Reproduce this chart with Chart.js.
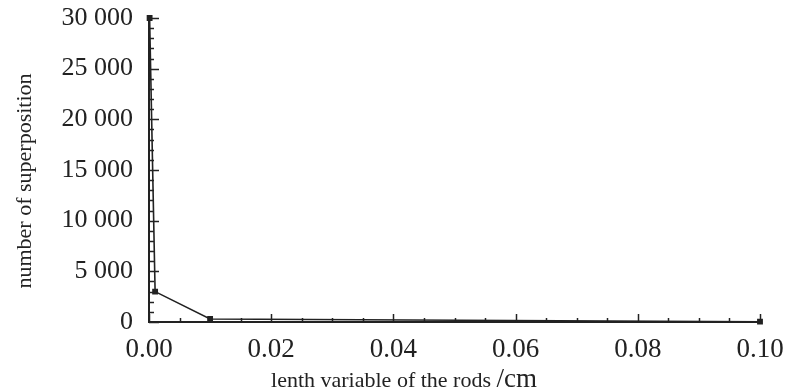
<!DOCTYPE html>
<html>
<head>
<meta charset="utf-8">
<script src="https://cdn.jsdelivr.net/npm/chart.js@4.4.0/dist/chart.umd.min.js"></script>
<style>
html,body{margin:0;padding:0;background:#fff;}
#wrap{width:788px;height:392px;position:relative;}
</style>
</head>
<body>
<div id="wrap"><canvas id="c" width="788" height="392"></canvas></div>
<script>
const lengths = [0.0001, 0.001, 0.01, 0.1];
const superpositions = [30000, 3000, 300, 30];
const xTitle = "lenth variable of the rods";
const xUnit = "cm";
const yTitle = "number of superposition";

const serif = "'Liberation Serif','Times New Roman',serif";
const ink = '#222';

function fmtThousands(v){
  return String(Math.round(v)).replace(/\B(?=(\d{3})+(?!\d))/g, ' ');
}

const inwardTicks = {
  id: 'inwardTicks',
  afterDatasetsDraw(chart){
    const ctx = chart.ctx;
    const xs = chart.scales.x, ys = chart.scales.y;
    const a = chart.chartArea;
    ctx.save();
    ctx.strokeStyle = ink;
    ctx.lineWidth = 1.5;
    for (let v = 0; v <= 30000; v += 1000){
      const py = Math.round(ys.getPixelForValue(v)) + 0.5;
      const len = (v % 5000 === 0) ? 10 : 5;
      ctx.beginPath();
      ctx.moveTo(a.left, py);
      ctx.lineTo(a.left + len, py);
      ctx.stroke();
    }
    for (let i = 0; i <= 20; i++){
      const v = i * 0.005;
      const px = Math.round(xs.getPixelForValue(v)) + 0.5;
      const len = (i % 4 === 0) ? 8 : 4;
      ctx.beginPath();
      ctx.moveTo(px, a.bottom);
      ctx.lineTo(px, a.bottom - len);
      ctx.stroke();
    }
    ctx.restore();
  },
  afterDraw(chart){
    const ctx = chart.ctx;
    ctx.save();
    ctx.fillStyle = ink;
    ctx.textBaseline = 'alphabetic';
    const f1 = "22px " + serif;
    const f2 = "27px " + serif;
    ctx.font = f1;
    const w1 = ctx.measureText(xTitle + " ").width;
    ctx.font = f2;
    const w2 = ctx.measureText("/" + xUnit).width;
    const cx = 404;
    let x0 = cx - (w1 + w2) / 2;
    const base = 387;
    ctx.font = f1;
    ctx.fillText(xTitle + " ", x0, base);
    ctx.font = f2;
    ctx.fillText("/" + xUnit, x0 + w1, base);
    ctx.translate(25, 181);
    ctx.rotate(-Math.PI / 2);
    ctx.font = f1;
    ctx.textAlign = 'center';
    ctx.textBaseline = 'middle';
    ctx.fillText(yTitle, 0, 0);
    ctx.restore();
  }
};

new Chart(document.getElementById('c'), {
  type: 'line',
  data: {
    datasets: [{
      data: lengths.map((x, i) => ({x: x, y: superpositions[i]})),
      borderColor: ink,
      backgroundColor: ink,
      borderWidth: 1.6,
      pointStyle: 'rect',
      pointRadius: 3,
      pointBackgroundColor: ink,
      pointBorderColor: ink,
      tension: 0,
      clip: false
    }]
  },
  options: {
    responsive: false,
    animation: false,
    events: [],
    layout: { padding: { top: 0, right: 28, bottom: 0, left: 0 } },
    plugins: { legend: { display: false }, tooltip: { enabled: false } },
    scales: {
      x: {
        type: 'linear',
        min: 0, max: 0.1,
        grid: { display: false },
        border: { display: true, color: ink, width: 2 },
        afterFit: s => { s.height = 70; },
        ticks: {
          stepSize: 0.02,
          color: ink,
          padding: 4,
          font: { family: serif, size: 27 },
          callback: v => Number(v).toFixed(2),
          maxRotation: 0
        }
      },
      y: {
        min: 0, max: 30000,
        grid: { display: false },
        border: { display: true, color: ink, width: 2 },
        afterFit: s => { s.width = 149; s.paddingTop = 18; s.paddingBottom = 0; },
        ticks: {
          stepSize: 5000,
          color: ink,
          padding: 8,
          font: { family: serif, size: 26 },
          callback: v => fmtThousands(v)
        }
      }
    }
  },
  plugins: [inwardTicks]
});
</script>
</body>
</html>
